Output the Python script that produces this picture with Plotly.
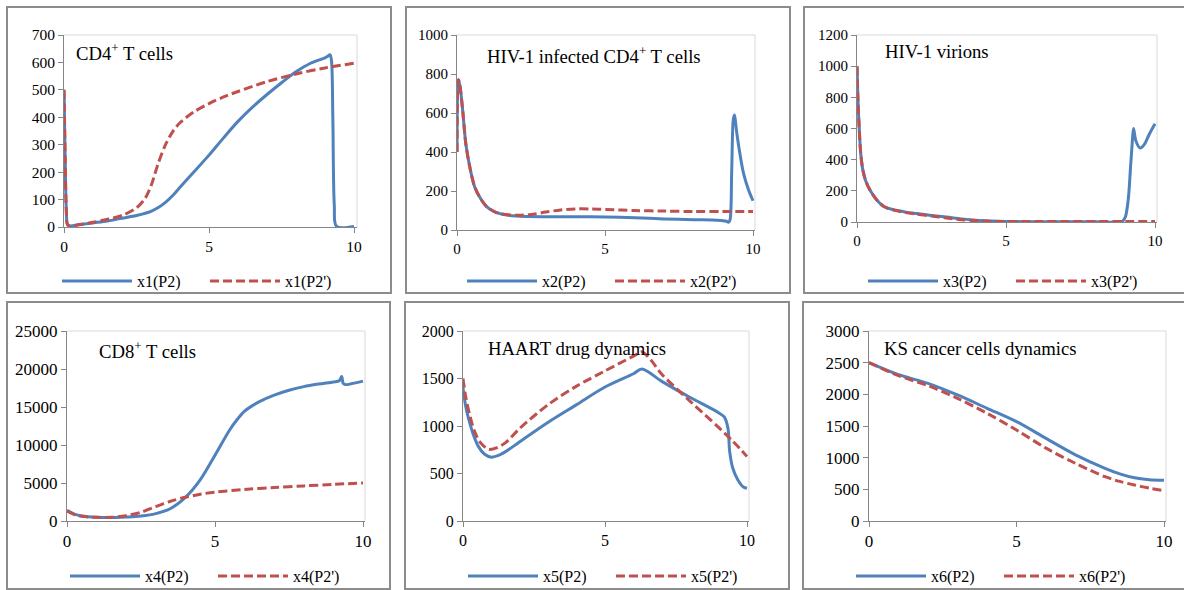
import plotly.graph_objects as go

W, H = 1184, 590

# ---------------- data ----------------
# Panel 1: CD4+ T cells
t1_p2 = [0, 0.04, 0.08, 0.12, 0.2, 0.5, 1, 1.5, 2, 2.5, 3, 3.25, 3.5, 3.75, 4, 4.5, 5, 5.5, 6, 6.5, 7, 7.5, 8, 8.5, 9, 9.1, 9.17, 9.22, 9.27, 9.32, 9.4, 10]
x1_p2 = [500, 250, 60, 10, 4, 8, 15, 22, 32, 42, 57, 71, 90, 115, 145, 203, 262, 325, 385, 437, 483, 526, 566, 597, 617, 623, 628, 610, 400, 80, 2, 2]
t1_p2p = [0, 0.04, 0.08, 0.12, 0.2, 0.5, 1, 1.5, 2, 2.5, 2.8, 3, 3.25, 3.5, 3.75, 4, 4.5, 5, 5.5, 6, 7, 8, 9, 10]
x1_p2p = [500, 250, 60, 8, 3, 8, 17, 28, 42, 70, 105, 150, 232, 300, 348, 380, 421, 450, 474, 494, 530, 558, 580, 597]

# Panel 2: HIV-1 infected CD4+ T cells
t2_p2 = [0, 0.05, 0.1, 0.2, 0.3, 0.45, 0.6, 0.8, 1, 1.25, 1.5, 2, 3, 4, 5, 6, 7, 8, 8.8, 9.1, 9.17, 9.22, 9.28, 9.33, 9.37, 9.45, 9.52, 9.68, 9.85, 10]
x2_p2 = [400, 770, 740, 600, 440, 310, 220, 160, 120, 95, 82, 72, 68, 68, 67, 63, 57, 53, 50, 45, 40, 50, 300, 560, 590, 500, 427, 290, 205, 150]
t2_p2p = [0, 0.05, 0.1, 0.2, 0.3, 0.45, 0.6, 0.8, 1, 1.25, 1.5, 2, 2.5, 3, 3.5, 4, 4.5, 5, 6, 7, 8, 9, 10]
x2_p2p = [400, 770, 740, 600, 440, 310, 220, 160, 120, 95, 82, 76, 80, 92, 103, 108, 108, 105, 100, 97, 95, 95, 95]

# Panel 3: HIV-1 virions
t3_p2 = [0, 0.03, 0.08, 0.13, 0.2, 0.3, 0.45, 0.65, 0.9, 1.2, 1.6, 2, 2.5, 3, 3.5, 4, 4.5, 5, 6, 7, 8, 8.9, 9.0, 9.1, 9.18, 9.24, 9.28, 9.36, 9.5, 9.65, 9.8, 10]
x3_p2 = [1000, 800, 580, 430, 330, 260, 200, 145, 100, 80, 65, 54, 42, 32, 20, 11, 6, 3, 2, 2, 2, 5, 30, 140, 354, 520, 600, 520, 475, 500, 560, 630]
t3_p2p = [0, 0.03, 0.08, 0.13, 0.2, 0.3, 0.45, 0.65, 0.9, 1.2, 1.6, 2, 2.5, 3, 3.5, 4, 4.5, 5, 6, 7, 8, 9, 10]
x3_p2p = [1000, 800, 580, 430, 330, 260, 200, 145, 100, 78, 62, 50, 38, 26, 15, 8, 4, 3, 3, 3, 3, 3, 3]

# Panel 4: CD8+ T cells
t4_p2 = [0, 0.25, 0.5, 1, 1.5, 2, 2.5, 3, 3.5, 4, 4.5, 5, 5.5, 5.75, 6, 6.25, 6.5, 7, 7.5, 8, 8.5, 9, 9.2, 9.28, 9.33, 9.4, 9.6, 10]
x4_p2 = [1400, 900, 650, 480, 450, 520, 650, 970, 1650, 3100, 5400, 8650, 12000, 13350, 14450, 15150, 15700, 16550, 17200, 17680, 18020, 18300, 18450, 19000, 18100, 17950, 18050, 18400]
t4_p2p = [0, 0.25, 0.5, 1, 1.5, 2, 2.5, 3, 3.5, 4, 4.5, 5, 6, 7, 8, 9, 10]
x4_p2p = [1300, 850, 620, 480, 480, 700, 1150, 1900, 2600, 3120, 3520, 3800, 4150, 4400, 4620, 4820, 5000]

# Panel 5: HAART drug dynamics
t5_p2 = [0, 0.1, 0.25, 0.4, 0.55, 0.75, 1, 1.25, 1.5, 2, 3, 4, 5, 6, 6.3, 7, 8, 9, 9.2, 9.33, 9.39, 9.5, 9.68, 9.86, 10]
x5_p2 = [1400, 1200, 1020, 880, 780, 705, 672, 690, 730, 835, 1040, 1225, 1410, 1550, 1600, 1470, 1300, 1140, 1095, 975, 730, 555, 432, 361, 344]
t5_p2p = [0, 0.1, 0.25, 0.4, 0.6, 0.9, 1.2, 1.5, 2, 3, 4, 5, 6, 6.3, 6.6, 7, 8, 9, 9.5, 10]
x5_p2p = [1500, 1300, 1100, 950, 830, 755, 772, 825, 975, 1225, 1420, 1580, 1735, 1780, 1700, 1545, 1260, 985, 840, 680]

# Panel 6: KS cancer cells dynamics
t6_p2 = [0, 1, 2, 3, 4, 5, 6, 7, 8, 8.5, 9, 9.5, 10]
x6_p2 = [2500, 2310, 2174, 1990, 1780, 1568, 1305, 1045, 832, 745, 682, 652, 642]
t6_p2p = [0, 1, 2, 3, 4, 5, 6, 7, 8, 8.5, 9, 9.5, 10]
x6_p2p = [2500, 2295, 2137, 1937, 1700, 1437, 1150, 910, 700, 625, 568, 520, 479]

titles = ["CD4<sup>+</sup> T cells", "HIV-1 infected CD4<sup>+</sup> T cells", "HIV-1 virions",
          "CD8<sup>+</sup> T cells", "HAART drug dynamics", "KS cancer cells dynamics"]
names_p2 = ["x1(P2)", "x2(P2)", "x3(P2)", "x4(P2)", "x5(P2)", "x6(P2)"]
names_p2p = ["x1(P2')", "x2(P2')", "x3(P2')", "x4(P2')", "x5(P2')", "x6(P2')"]
y_max = [700, 1000, 1200, 25000, 2000, 3000]
y_dtick = [100, 200, 200, 5000, 500, 500]
x_ticks = [0, 5, 10]

series = [(t1_p2, x1_p2, t1_p2p, x1_p2p), (t2_p2, x2_p2, t2_p2p, x2_p2p),
          (t3_p2, x3_p2, t3_p2p, x3_p2p), (t4_p2, x4_p2, t4_p2p, x4_p2p),
          (t5_p2, x5_p2, t5_p2p, x5_p2p), (t6_p2, x6_p2, t6_p2p, x6_p2p)]

# ---------------- layout geometry (pixels) ----------------
# plot area: left, right, x-of-tick-10, top, bottom
plot_px = [(64, 357, 354, 35, 227), (457, 755, 753, 35, 230), (857, 1157, 1155, 35, 222),
           (67, 365, 363, 331, 521), (463, 749, 747, 331, 521), (869, 1166, 1164, 331, 521)]
boxes_px = [(7, 391, 7, 293), (406, 790, 7, 293), (804, 1195, 7, 293),
            (7, 390, 302, 589), (405, 789, 302, 589), (803, 1195, 302, 589)]
title_px = [(74, 52), (485, 55), (883, 52), (97, 350), (486, 348), (882, 348)]
legend_px = [(57, 281), (462, 281), (863, 281), (65, 576), (463, 576), (851, 576)]
tick_size = [15.5, 15, 15, 17, 16, 17]

BLUE = "#4F81BD"
RED = "#C0504D"
FONT = "Liberation Serif"
AXC = "#868686"

fig = go.Figure()
layout = dict(width=W, height=H, margin=dict(l=0, r=0, t=0, b=0, autoexpand=False),
              paper_bgcolor="white", plot_bgcolor="white",
              font=dict(family=FONT, size=14, color="black"),
              showlegend=True)
shapes = []
annotations = []

def px_x(v):
    return v / W

def px_y(v):
    return 1 - v / H

for i in range(6):
    k = i + 1
    ax = "" if k == 1 else str(k)
    ta, ya, tb, yb = series[i]
    lg = "legend" if k == 1 else f"legend{k}"
    fig.add_trace(go.Scatter(x=ta, y=ya, mode="lines", name=names_p2[i],
                             line=dict(color=BLUE, width=3, shape="spline", smoothing=0.9),
                             xaxis="x" + ax, yaxis="y" + ax, legend=lg))
    fig.add_trace(go.Scatter(x=tb, y=yb, mode="lines", name=names_p2p[i],
                             line=dict(color=RED, width=3, dash="9px,4px", shape="spline", smoothing=0.9),
                             xaxis="x" + ax, yaxis="y" + ax, legend=lg))
    l, r, x10, t, b = plot_px[i]
    xmax = 10 * (r - l) / (x10 - l)
    tf = dict(family=FONT, size=tick_size[i], color="black")
    layout["xaxis" + ax] = dict(domain=[px_x(l), px_x(r)], range=[0, xmax], anchor="y" + ax,
                                tickvals=x_ticks, showgrid=False, zeroline=False,
                                showline=True, linecolor=AXC, linewidth=1,
                                ticks="outside", ticklen=5, tickcolor=AXC, tickfont=tf)
    layout["yaxis" + ax] = dict(domain=[px_y(b), px_y(t)], range=[0, y_max[i]], anchor="x" + ax,
                                dtick=y_dtick[i], tickformat="d", showgrid=False, zeroline=False,
                                showline=True, linecolor=AXC, linewidth=1,
                                ticks="outside", ticklen=5, tickcolor=AXC, tickfont=tf)
    # plot area top/right border
    shapes.append(dict(type="line", xref=f"x{ax} domain", yref=f"y{ax} domain",
                       x0=0, x1=1, y0=1, y1=1, line=dict(color="#D9D9D9", width=1)))
    shapes.append(dict(type="line", xref=f"x{ax} domain", yref=f"y{ax} domain",
                       x0=1, x1=1, y0=0, y1=1, line=dict(color="#D9D9D9", width=1)))
    # chart box
    bl, br, bt, bb = boxes_px[i]
    shapes.append(dict(type="rect", xref="paper", yref="paper",
                       x0=px_x(bl), x1=px_x(br), y0=px_y(bb), y1=px_y(bt),
                       line=dict(color="#8C8C8C", width=2), layer="below"))
    tx, ty = title_px[i]
    annotations.append(dict(text=titles[i], x=px_x(tx), y=px_y(ty), xref="paper", yref="paper",
                            xanchor="left", yanchor="middle", showarrow=False,
                            font=dict(family=FONT, size=18.7, color="black")))
    lx, ly = legend_px[i]
    layout[lg] = dict(x=px_x(lx), y=px_y(ly), xanchor="left", yanchor="middle",
                      orientation="h", itemwidth=70, entrywidth=63,
                      bgcolor="rgba(0,0,0,0)", font=dict(family=FONT, size=16, color="black"))

layout["shapes"] = shapes
layout["annotations"] = annotations
fig.update_layout(**layout)
fig.write_html("out.html", config={"displayModeBar": False},
               post_script="document.body.style.margin='0';document.body.style.overflow='hidden';")
